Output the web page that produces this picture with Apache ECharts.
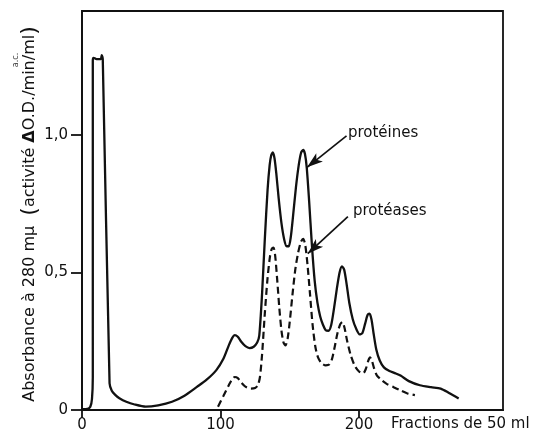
<!DOCTYPE html>
<html>
<head>
<meta charset="utf-8">
<script src="https://cdn.jsdelivr.net/npm/echarts@6/dist/echarts.min.js"></script>
<style>
  html, body { margin: 0; padding: 0; background: #fff; }
  #chart { width: 536px; height: 445px; }
</style>
</head>
<body>
<div id="chart"></div>
<script>
// Elution profile: absorbance of proteins (solid) and protease activity (dashed)
// [fraction number, value]
const proteines = [
  [0, 0.003], [4, 0.004], [6, 0.012], [7.2, 0.04], [7.8, 0.12], [7.8, 1.27],
  [8.3, 1.28], [10.5, 1.275], [13.5, 1.275], [14.3, 1.29], [15, 1.275],
  [19.9, 0.097], [21.5, 0.07], [24, 0.055], [27, 0.043], [32, 0.03], [38, 0.02],
  [46, 0.012], [55, 0.017], [65, 0.03], [74, 0.052], [83, 0.084], [90, 0.11],
  [97, 0.145], [102, 0.185], [106, 0.235], [108.5, 0.262], [110.3, 0.272],
  [112.5, 0.266], [115, 0.248], [118, 0.232], [121, 0.225], [124, 0.23],
  [126.5, 0.245], [128, 0.27], [130, 0.42], [132, 0.62], [134, 0.8],
  [135.5, 0.89], [136.6, 0.925], [137.8, 0.936], [139, 0.915], [140.3, 0.86],
  [142, 0.77], [144, 0.68], [146, 0.62], [147.8, 0.595], [149.3, 0.595],
  [150.8, 0.63], [152.5, 0.71], [154.5, 0.81], [156.5, 0.89], [158.2, 0.935],
  [159.7, 0.945], [161, 0.93], [162.3, 0.88], [164, 0.76], [166, 0.6],
  [168, 0.47], [170, 0.39], [172, 0.34], [174, 0.31], [176, 0.29], [178, 0.288],
  [180, 0.31], [182, 0.37], [184, 0.44], [186, 0.5], [187.7, 0.522],
  [189.3, 0.51], [191, 0.46], [193, 0.39], [195.5, 0.33], [198, 0.295],
  [200.5, 0.275], [202.5, 0.28], [204.5, 0.315], [206.2, 0.345], [207.6, 0.35],
  [209, 0.33], [210.5, 0.28], [212.5, 0.22], [215, 0.18], [218, 0.155],
  [222, 0.142], [226, 0.134], [230, 0.125], [236, 0.105], [244, 0.09],
  [252, 0.083], [259, 0.078], [265, 0.062], [272, 0.042]
];

const proteases = [
  [98.2, 0.012], [102, 0.05], [106, 0.09], [108.5, 0.113], [110.3, 0.12],
  [112.5, 0.116], [115, 0.1], [118, 0.085], [122, 0.078], [125, 0.08],
  [127, 0.09], [128.5, 0.12], [130, 0.2], [132, 0.35], [134, 0.48],
  [135.8, 0.56], [137, 0.585], [138.3, 0.59], [139.5, 0.56], [141, 0.47],
  [142.5, 0.37], [144, 0.29], [145.5, 0.245], [147, 0.235], [148.5, 0.26],
  [150, 0.32], [152, 0.42], [154, 0.51], [156, 0.57], [158, 0.61],
  [159.7, 0.622], [161.2, 0.6], [162.8, 0.53], [164.5, 0.43], [166.5, 0.31],
  [168.5, 0.23], [170.5, 0.19], [173, 0.17], [176, 0.162], [178.5, 0.165],
  [180.5, 0.185], [182.5, 0.23], [184.5, 0.28], [186.5, 0.312], [188, 0.32],
  [189.5, 0.3], [191.5, 0.25], [194, 0.2], [197, 0.16], [200, 0.14],
  [203, 0.133], [205, 0.15], [206.8, 0.18], [208, 0.191], [209.3, 0.18],
  [211, 0.15], [213, 0.125], [216.3, 0.109], [220, 0.095], [225, 0.083],
  [229.6, 0.072], [235, 0.06], [240.4, 0.054]
];

const xTicks = [0, 100, 200];
const yTicks = [0, 0.5, 1.0];
const yTickLabels = ['0', '0,5', '1,0'];

// Annotation arrows: [label, label anchor, arrow start, arrow tip]
const annotations = [
  ['protéines', [192, 1.008], [191, 0.996], [162.5, 0.882]],
  ['protéases', [195.6, 0.722], [192, 0.703], [163, 0.568]]
];

const INK = '#111';
const FONT = 'DejaVu Sans';

const chart = echarts.init(document.getElementById('chart'), null, { renderer: 'canvas' });

chart.setOption({
  animation: false,
  backgroundColor: '#fff',
  textStyle: { fontFamily: FONT, color: INK },
  grid: {
    left: 82, right: 33, top: 11, bottom: 35,
    show: true, borderColor: INK, borderWidth: 1.8
  },
  xAxis: {
    type: 'value', min: 0, max: 304,
    splitLine: { show: false },
    axisLine: { show: true, lineStyle: { color: INK, width: 1.8 } },
    axisTick: { show: true, inside: false, length: 8, customValues: xTicks,
      lineStyle: { color: INK, width: 1.8 } },
    axisLabel: { customValues: xTicks, margin: 8, fontSize: 15,
      fontFamily: FONT, color: INK }
  },
  yAxis: {
    type: 'value', min: 0, max: 1.45,
    splitLine: { show: false },
    axisLine: { show: true, lineStyle: { color: INK, width: 1.8 } },
    axisTick: { show: true, inside: false, length: 11, customValues: yTicks,
      lineStyle: { color: INK, width: 1.8 } },
    axisLabel: {
      customValues: yTicks, margin: 14, fontSize: 15, fontFamily: FONT, color: INK,
      formatter: v => {
        const i = yTicks.findIndex(t => Math.abs(t - v) < 1e-9);
        return i >= 0 ? yTickLabels[i] : '';
      }
    }
  },
  series: [
    {
      name: 'protéines',
      type: 'line',
      data: proteines,
      smooth: 0.25,
      showSymbol: false,
      lineStyle: { color: INK, width: 2.3 },
      markLine: {
        silent: true,
        symbol: ['none', 'arrow'],
        symbolSize: [8, 16],
        label: { show: false },
        lineStyle: { color: INK, width: 1.7, type: 'solid' },
        data: annotations.map(a => [{ coord: a[2] }, { coord: a[3] }])
      },
      markPoint: {
        silent: true,
        symbol: 'circle',
        symbolSize: 0,
        data: annotations.map(a => ({ name: a[0], coord: a[1] })),
        label: {
          show: true, position: 'right', distance: 0,
          formatter: p => p.name,
          fontFamily: FONT, fontSize: 15, color: INK
        }
      }
    },
    {
      name: 'protéases',
      type: 'line',
      data: proteases,
      smooth: 0.25,
      showSymbol: false,
      lineStyle: { color: INK, width: 2.2, type: [7, 4] }
    }
  ],
  graphic: [
    {
      type: 'text',
      x: 30, y: 214,
      rotation: Math.PI / 2,
      style: {
        text: 'Absorbance à 280 mμ  {p|(}activité {d|Δ}O.D./min/ml{p|)}',
        font: '16px "DejaVu Sans"',
        fill: INK,
        align: 'center',
        verticalAlign: 'middle',
        rich: {
          p: { fontSize: 22, fontFamily: FONT, fill: INK },
          d: { fontSize: 16, fontWeight: 'bold', fontFamily: FONT, fill: INK }
        }
      }
    },
    {
      type: 'text',
      x: 16, y: 60,
      rotation: Math.PI / 2,
      style: {
        text: 'a.c.',
        font: '8px "DejaVu Sans"',
        fill: '#444',
        align: 'center',
        verticalAlign: 'middle'
      }
    },
    {
      type: 'text',
      x: 391, y: 424,
      style: {
        text: 'Fractions de 50 ml',
        font: '15px "DejaVu Sans"',
        fill: INK,
        align: 'left',
        verticalAlign: 'middle'
      }
    }
  ]
});
</script>
</body>
</html>
